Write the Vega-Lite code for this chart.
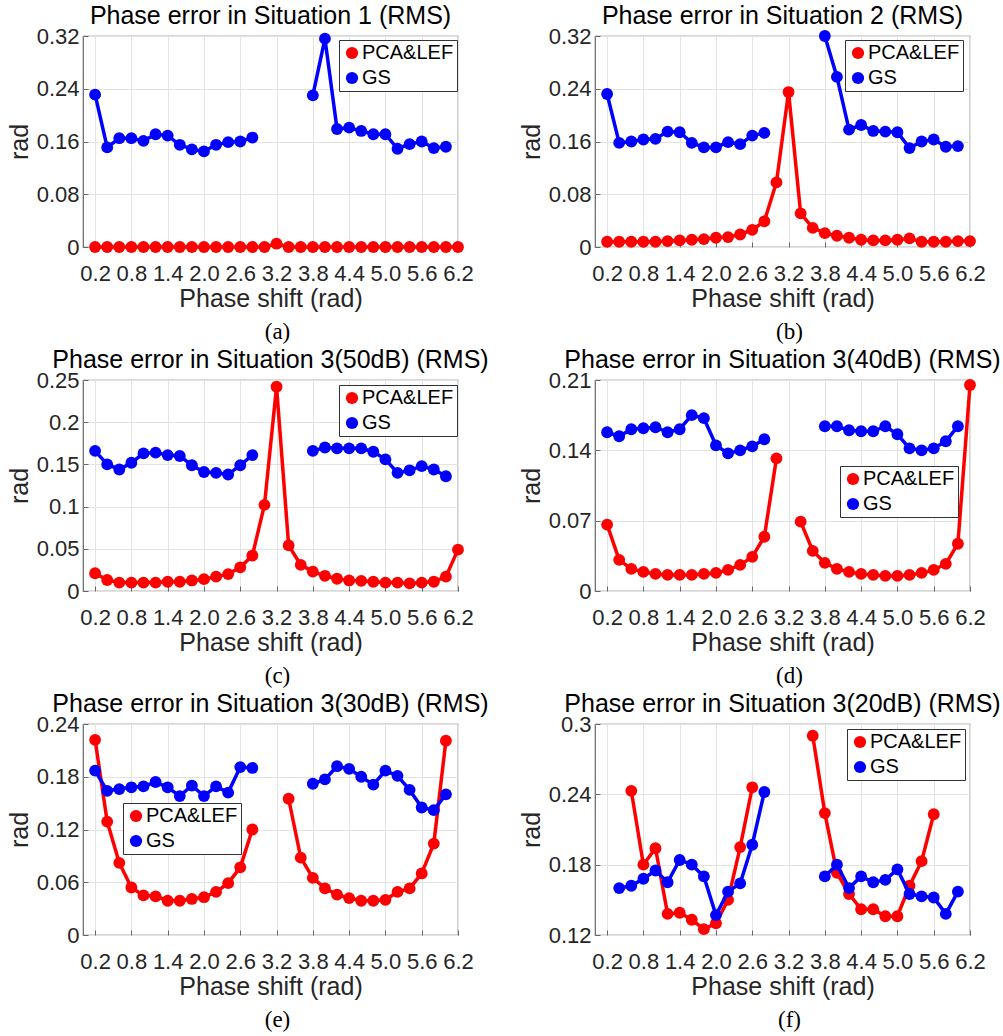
{
"$schema": "https://vega.github.io/schema/vega-lite/v6.json",
"background": "white",
"padding": {"left": 6, "top": 3, "right": 4, "bottom": 0},
"datasets": {
"a": [
{"phase":0.2,"PCA&LEF":0,"GS":0.231},{"phase":0.4,"PCA&LEF":0,"GS":0.151},{"phase":0.6,"PCA&LEF":0,"GS":0.165},{"phase":0.8,"PCA&LEF":0,"GS":0.165},{"phase":1.0,"PCA&LEF":0,"GS":0.161},{"phase":1.2,"PCA&LEF":0,"GS":0.171},{"phase":1.4,"PCA&LEF":0,"GS":0.169},{"phase":1.6,"PCA&LEF":0,"GS":0.155},{"phase":1.8,"PCA&LEF":0,"GS":0.148},{"phase":2.0,"PCA&LEF":0,"GS":0.145},{"phase":2.2,"PCA&LEF":0,"GS":0.155},{"phase":2.4,"PCA&LEF":0,"GS":0.159},{"phase":2.6,"PCA&LEF":0,"GS":0.160},{"phase":2.8,"PCA&LEF":0,"GS":0.166},{"phase":3.0,"PCA&LEF":0,"GS":null},{"phase":3.2,"PCA&LEF":0.005,"GS":null},{"phase":3.4,"PCA&LEF":0,"GS":null},{"phase":3.6,"PCA&LEF":0,"GS":null},{"phase":3.8,"PCA&LEF":0,"GS":0.230},{"phase":4.0,"PCA&LEF":0,"GS":0.316},{"phase":4.2,"PCA&LEF":0,"GS":0.179},{"phase":4.4,"PCA&LEF":0,"GS":0.181},{"phase":4.6,"PCA&LEF":0,"GS":0.176},{"phase":4.8,"PCA&LEF":0,"GS":0.171},{"phase":5.0,"PCA&LEF":0,"GS":0.171},{"phase":5.2,"PCA&LEF":0,"GS":0.149},{"phase":5.4,"PCA&LEF":0,"GS":0.156},{"phase":5.6,"PCA&LEF":0,"GS":0.160},{"phase":5.8,"PCA&LEF":0,"GS":0.150},{"phase":6.0,"PCA&LEF":0,"GS":0.152},{"phase":6.2,"PCA&LEF":0,"GS":null}
],
"b": [
{"phase":0.2,"PCA&LEF":0.008,"GS":0.232},{"phase":0.4,"PCA&LEF":0.008,"GS":0.158},{"phase":0.6,"PCA&LEF":0.008,"GS":0.160},{"phase":0.8,"PCA&LEF":0.008,"GS":0.163},{"phase":1.0,"PCA&LEF":0.008,"GS":0.164},{"phase":1.2,"PCA&LEF":0.009,"GS":0.175},{"phase":1.4,"PCA&LEF":0.010,"GS":0.174},{"phase":1.6,"PCA&LEF":0.011,"GS":0.158},{"phase":1.8,"PCA&LEF":0.012,"GS":0.151},{"phase":2.0,"PCA&LEF":0.014,"GS":0.151},{"phase":2.2,"PCA&LEF":0.015,"GS":0.159},{"phase":2.4,"PCA&LEF":0.019,"GS":0.156},{"phase":2.6,"PCA&LEF":0.026,"GS":0.169},{"phase":2.8,"PCA&LEF":0.039,"GS":0.173},{"phase":3.0,"PCA&LEF":0.098,"GS":null},{"phase":3.2,"PCA&LEF":0.235,"GS":null},{"phase":3.4,"PCA&LEF":0.051,"GS":null},{"phase":3.6,"PCA&LEF":0.029,"GS":null},{"phase":3.8,"PCA&LEF":0.021,"GS":0.320},{"phase":4.0,"PCA&LEF":0.017,"GS":0.258},{"phase":4.2,"PCA&LEF":0.014,"GS":0.178},{"phase":4.4,"PCA&LEF":0.011,"GS":0.185},{"phase":4.6,"PCA&LEF":0.010,"GS":0.176},{"phase":4.8,"PCA&LEF":0.010,"GS":0.175},{"phase":5.0,"PCA&LEF":0.011,"GS":0.174},{"phase":5.2,"PCA&LEF":0.013,"GS":0.150},{"phase":5.4,"PCA&LEF":0.008,"GS":0.160},{"phase":5.6,"PCA&LEF":0.008,"GS":0.163},{"phase":5.8,"PCA&LEF":0.008,"GS":0.152},{"phase":6.0,"PCA&LEF":0.009,"GS":0.153},{"phase":6.2,"PCA&LEF":0.009,"GS":null}
],
"c": [
{"phase":0.2,"PCA&LEF":0.021,"GS":0.166},{"phase":0.4,"PCA&LEF":0.013,"GS":0.150},{"phase":0.6,"PCA&LEF":0.010,"GS":0.144},{"phase":0.8,"PCA&LEF":0.010,"GS":0.152},{"phase":1.0,"PCA&LEF":0.010,"GS":0.163},{"phase":1.2,"PCA&LEF":0.010,"GS":0.164},{"phase":1.4,"PCA&LEF":0.011,"GS":0.161},{"phase":1.6,"PCA&LEF":0.011,"GS":0.160},{"phase":1.8,"PCA&LEF":0.0125,"GS":0.149},{"phase":2.0,"PCA&LEF":0.014,"GS":0.141},{"phase":2.2,"PCA&LEF":0.017,"GS":0.140},{"phase":2.4,"PCA&LEF":0.020,"GS":0.138},{"phase":2.6,"PCA&LEF":0.028,"GS":0.149},{"phase":2.8,"PCA&LEF":0.042,"GS":0.161},{"phase":3.0,"PCA&LEF":0.102,"GS":null},{"phase":3.2,"PCA&LEF":0.242,"GS":null},{"phase":3.4,"PCA&LEF":0.054,"GS":null},{"phase":3.6,"PCA&LEF":0.031,"GS":null},{"phase":3.8,"PCA&LEF":0.023,"GS":0.166},{"phase":4.0,"PCA&LEF":0.018,"GS":0.170},{"phase":4.2,"PCA&LEF":0.0145,"GS":0.169},{"phase":4.4,"PCA&LEF":0.0125,"GS":0.169},{"phase":4.6,"PCA&LEF":0.012,"GS":0.169},{"phase":4.8,"PCA&LEF":0.011,"GS":0.165},{"phase":5.0,"PCA&LEF":0.010,"GS":0.156},{"phase":5.2,"PCA&LEF":0.010,"GS":0.140},{"phase":5.4,"PCA&LEF":0.009,"GS":0.143},{"phase":5.6,"PCA&LEF":0.010,"GS":0.148},{"phase":5.8,"PCA&LEF":0.011,"GS":0.144},{"phase":6.0,"PCA&LEF":0.017,"GS":0.136},{"phase":6.2,"PCA&LEF":0.049,"GS":null}
],
"d": [
{"phase":0.2,"PCA&LEF":0.066,"GS":0.158},{"phase":0.4,"PCA&LEF":0.031,"GS":0.154},{"phase":0.6,"PCA&LEF":0.022,"GS":0.161},{"phase":0.8,"PCA&LEF":0.019,"GS":0.162},{"phase":1.0,"PCA&LEF":0.017,"GS":0.163},{"phase":1.2,"PCA&LEF":0.016,"GS":0.158},{"phase":1.4,"PCA&LEF":0.016,"GS":0.161},{"phase":1.6,"PCA&LEF":0.016,"GS":0.175},{"phase":1.8,"PCA&LEF":0.017,"GS":0.172},{"phase":2.0,"PCA&LEF":0.018,"GS":0.145},{"phase":2.2,"PCA&LEF":0.021,"GS":0.137},{"phase":2.4,"PCA&LEF":0.026,"GS":0.140},{"phase":2.6,"PCA&LEF":0.034,"GS":0.144},{"phase":2.8,"PCA&LEF":0.054,"GS":0.151},{"phase":3.0,"PCA&LEF":0.132,"GS":null},{"phase":3.2,"PCA&LEF":null,"GS":null},{"phase":3.4,"PCA&LEF":0.069,"GS":null},{"phase":3.6,"PCA&LEF":0.040,"GS":null},{"phase":3.8,"PCA&LEF":0.028,"GS":0.164},{"phase":4.0,"PCA&LEF":0.022,"GS":0.164},{"phase":4.2,"PCA&LEF":0.019,"GS":0.160},{"phase":4.4,"PCA&LEF":0.017,"GS":0.159},{"phase":4.6,"PCA&LEF":0.016,"GS":0.159},{"phase":4.8,"PCA&LEF":0.015,"GS":0.164},{"phase":5.0,"PCA&LEF":0.015,"GS":0.156},{"phase":5.2,"PCA&LEF":0.016,"GS":0.142},{"phase":5.4,"PCA&LEF":0.018,"GS":0.140},{"phase":5.6,"PCA&LEF":0.021,"GS":0.142},{"phase":5.8,"PCA&LEF":0.027,"GS":0.149},{"phase":6.0,"PCA&LEF":0.047,"GS":0.164},{"phase":6.2,"PCA&LEF":0.205,"GS":null}
],
"e": [
{"phase":0.2,"PCA&LEF":0.222,"GS":0.187},{"phase":0.4,"PCA&LEF":0.129,"GS":0.164},{"phase":0.6,"PCA&LEF":0.082,"GS":0.166},{"phase":0.8,"PCA&LEF":0.054,"GS":0.168},{"phase":1.0,"PCA&LEF":0.045,"GS":0.169},{"phase":1.2,"PCA&LEF":0.044,"GS":0.174},{"phase":1.4,"PCA&LEF":0.039,"GS":0.168},{"phase":1.6,"PCA&LEF":0.039,"GS":0.158},{"phase":1.8,"PCA&LEF":0.041,"GS":0.170},{"phase":2.0,"PCA&LEF":0.043,"GS":0.158},{"phase":2.2,"PCA&LEF":0.049,"GS":0.169},{"phase":2.4,"PCA&LEF":0.059,"GS":0.162},{"phase":2.6,"PCA&LEF":0.077,"GS":0.191},{"phase":2.8,"PCA&LEF":0.120,"GS":0.190},{"phase":3.0,"PCA&LEF":null,"GS":null},{"phase":3.2,"PCA&LEF":null,"GS":null},{"phase":3.4,"PCA&LEF":0.155,"GS":null},{"phase":3.6,"PCA&LEF":0.088,"GS":null},{"phase":3.8,"PCA&LEF":0.065,"GS":0.172},{"phase":4.0,"PCA&LEF":0.053,"GS":0.177},{"phase":4.2,"PCA&LEF":0.046,"GS":0.192},{"phase":4.4,"PCA&LEF":0.042,"GS":0.189},{"phase":4.6,"PCA&LEF":0.039,"GS":0.180},{"phase":4.8,"PCA&LEF":0.039,"GS":0.171},{"phase":5.0,"PCA&LEF":0.040,"GS":0.187},{"phase":5.2,"PCA&LEF":0.049,"GS":0.181},{"phase":5.4,"PCA&LEF":0.053,"GS":0.165},{"phase":5.6,"PCA&LEF":0.070,"GS":0.145},{"phase":5.8,"PCA&LEF":0.104,"GS":0.142},{"phase":6.0,"PCA&LEF":0.221,"GS":0.160}
],
"f": [
{"phase":0.4,"PCA&LEF":null,"GS":0.160},{"phase":0.6,"PCA&LEF":0.243,"GS":0.162},{"phase":0.8,"PCA&LEF":0.180,"GS":0.168},{"phase":1.0,"PCA&LEF":0.194,"GS":0.175},{"phase":1.2,"PCA&LEF":0.138,"GS":0.165},{"phase":1.4,"PCA&LEF":0.139,"GS":0.184},{"phase":1.6,"PCA&LEF":0.133,"GS":0.180},{"phase":1.8,"PCA&LEF":0.125,"GS":0.170},{"phase":2.0,"PCA&LEF":0.130,"GS":0.137},{"phase":2.2,"PCA&LEF":0.150,"GS":0.157},{"phase":2.4,"PCA&LEF":0.195,"GS":0.164},{"phase":2.6,"PCA&LEF":0.246,"GS":0.197},{"phase":2.8,"PCA&LEF":null,"GS":0.242},{"phase":3.0,"PCA&LEF":null,"GS":null},{"phase":3.2,"PCA&LEF":null,"GS":null},{"phase":3.4,"PCA&LEF":null,"GS":null},{"phase":3.6,"PCA&LEF":0.290,"GS":null},{"phase":3.8,"PCA&LEF":0.224,"GS":0.170},{"phase":4.0,"PCA&LEF":0.173,"GS":0.180},{"phase":4.2,"PCA&LEF":0.155,"GS":0.160},{"phase":4.4,"PCA&LEF":0.142,"GS":0.170},{"phase":4.6,"PCA&LEF":0.142,"GS":0.165},{"phase":4.8,"PCA&LEF":0.136,"GS":0.167},{"phase":5.0,"PCA&LEF":0.136,"GS":0.176},{"phase":5.2,"PCA&LEF":0.162,"GS":0.155},{"phase":5.4,"PCA&LEF":0.183,"GS":0.153},{"phase":5.6,"PCA&LEF":0.223,"GS":0.152},{"phase":5.8,"PCA&LEF":null,"GS":0.138},{"phase":6.0,"PCA&LEF":null,"GS":0.157}
]
},
"columns": 2,
"spacing": {"row": 3, "column": 28},
"resolve": {"scale": {"color": "independent"}, "legend": {"color": "independent"}},
"concat": [
{"spacing": 8, "resolve": {"scale": {"color": "independent"}, "legend": {"color": "independent"}}, "vconcat": [
 {"width": 375, "height": 211, "title": "Phase error in Situation 1 (RMS)", "data": {"name": "a"},
  "transform": [{"fold": ["PCA&LEF", "GS"], "as": ["method", "rms"]}],
  "encoding": {
   "x": {"field": "phase", "type": "quantitative", "scale": {"domain": [0, 6.2], "nice": false, "zero": false}, "axis": {"values": [0.2,0.8,1.4,2.0,2.6,3.2,3.8,4.4,5.0,5.6,6.2], "format": ".1f", "title": "Phase shift (rad)"}},
   "y": {"field": "rms", "type": "quantitative", "scale": {"domain": [0, 0.32], "nice": false}, "axis": {"values": [0,0.08,0.16,0.24,0.32], "format": "~g", "title": "rad"}},
   "color": {"field": "method", "type": "nominal", "scale": {"domain": ["PCA&LEF", "GS"], "range": ["#ff0000", "#0000ff"]}, "legend": {"orient": "none", "legendX": 256, "legendY": 4}}
  },
  "layer": [
   {"transform": [{"filter": {"field": "method", "equal": "PCA&LEF"}}], "mark": {"type": "line", "strokeWidth": 3.5, "invalid": "break-paths-filter-domains"}},
   {"transform": [{"filter": {"field": "method", "equal": "PCA&LEF"}}], "mark": {"type": "point", "filled": true, "size": 140, "opacity": 1}},
   {"transform": [{"filter": {"field": "method", "equal": "GS"}}], "mark": {"type": "line", "strokeWidth": 3.5, "invalid": "break-paths-filter-domains"}},
   {"transform": [{"filter": {"field": "method", "equal": "GS"}}], "mark": {"type": "point", "filled": true, "size": 140, "opacity": 1}}
  ]},
 {"width": 375, "height": 24, "view": {"stroke": null}, "data": {"values": [{"caption": "(a)"}]}, "mark": {"type": "text", "font": "Liberation Serif", "fontSize": 23, "dx": 7, "color": "#000"}, "encoding": {"text": {"field": "caption"}}}
]},
{"spacing": 8, "resolve": {"scale": {"color": "independent"}, "legend": {"color": "independent"}}, "vconcat": [
 {"width": 375, "height": 211, "title": "Phase error in Situation 2 (RMS)", "data": {"name": "b"},
  "transform": [{"fold": ["PCA&LEF", "GS"], "as": ["method", "rms"]}],
  "encoding": {
   "x": {"field": "phase", "type": "quantitative", "scale": {"domain": [0, 6.2], "nice": false, "zero": false}, "axis": {"values": [0.2,0.8,1.4,2.0,2.6,3.2,3.8,4.4,5.0,5.6,6.2], "format": ".1f", "title": "Phase shift (rad)"}},
   "y": {"field": "rms", "type": "quantitative", "scale": {"domain": [0, 0.32], "nice": false}, "axis": {"values": [0,0.08,0.16,0.24,0.32], "format": "~g", "title": "rad"}},
   "color": {"field": "method", "type": "nominal", "scale": {"domain": ["PCA&LEF", "GS"], "range": ["#ff0000", "#0000ff"]}, "legend": {"orient": "none", "legendX": 250, "legendY": 4}}
  },
  "layer": [
   {"transform": [{"filter": {"field": "method", "equal": "PCA&LEF"}}], "mark": {"type": "line", "strokeWidth": 3.5, "invalid": "break-paths-filter-domains"}},
   {"transform": [{"filter": {"field": "method", "equal": "PCA&LEF"}}], "mark": {"type": "point", "filled": true, "size": 140, "opacity": 1}},
   {"transform": [{"filter": {"field": "method", "equal": "GS"}}], "mark": {"type": "line", "strokeWidth": 3.5, "invalid": "break-paths-filter-domains"}},
   {"transform": [{"filter": {"field": "method", "equal": "GS"}}], "mark": {"type": "point", "filled": true, "size": 140, "opacity": 1}}
  ]},
 {"width": 375, "height": 24, "view": {"stroke": null}, "data": {"values": [{"caption": "(b)"}]}, "mark": {"type": "text", "font": "Liberation Serif", "fontSize": 23, "dx": 7, "color": "#000"}, "encoding": {"text": {"field": "caption"}}}
]},
{"spacing": 8, "resolve": {"scale": {"color": "independent"}, "legend": {"color": "independent"}}, "vconcat": [
 {"width": 375, "height": 211, "title": "Phase error in Situation 3(50dB) (RMS)", "data": {"name": "c"},
  "transform": [{"fold": ["PCA&LEF", "GS"], "as": ["method", "rms"]}],
  "encoding": {
   "x": {"field": "phase", "type": "quantitative", "scale": {"domain": [0, 6.2], "nice": false, "zero": false}, "axis": {"values": [0.2,0.8,1.4,2.0,2.6,3.2,3.8,4.4,5.0,5.6,6.2], "format": ".1f", "title": "Phase shift (rad)"}},
   "y": {"field": "rms", "type": "quantitative", "scale": {"domain": [0, 0.25], "nice": false}, "axis": {"values": [0,0.05,0.1,0.15,0.2,0.25], "format": "~g", "title": "rad"}},
   "color": {"field": "method", "type": "nominal", "scale": {"domain": ["PCA&LEF", "GS"], "range": ["#ff0000", "#0000ff"]}, "legend": {"orient": "none", "legendX": 256, "legendY": 5}}
  },
  "layer": [
   {"transform": [{"filter": {"field": "method", "equal": "PCA&LEF"}}], "mark": {"type": "line", "strokeWidth": 3.5, "invalid": "break-paths-filter-domains"}},
   {"transform": [{"filter": {"field": "method", "equal": "PCA&LEF"}}], "mark": {"type": "point", "filled": true, "size": 140, "opacity": 1}},
   {"transform": [{"filter": {"field": "method", "equal": "GS"}}], "mark": {"type": "line", "strokeWidth": 3.5, "invalid": "break-paths-filter-domains"}},
   {"transform": [{"filter": {"field": "method", "equal": "GS"}}], "mark": {"type": "point", "filled": true, "size": 140, "opacity": 1}}
  ]},
 {"width": 375, "height": 24, "view": {"stroke": null}, "data": {"values": [{"caption": "(c)"}]}, "mark": {"type": "text", "font": "Liberation Serif", "fontSize": 23, "dx": 7, "color": "#000"}, "encoding": {"text": {"field": "caption"}}}
]},
{"spacing": 8, "resolve": {"scale": {"color": "independent"}, "legend": {"color": "independent"}}, "vconcat": [
 {"width": 375, "height": 211, "title": "Phase error in Situation 3(40dB) (RMS)", "data": {"name": "d"},
  "transform": [{"fold": ["PCA&LEF", "GS"], "as": ["method", "rms"]}],
  "encoding": {
   "x": {"field": "phase", "type": "quantitative", "scale": {"domain": [0, 6.2], "nice": false, "zero": false}, "axis": {"values": [0.2,0.8,1.4,2.0,2.6,3.2,3.8,4.4,5.0,5.6,6.2], "format": ".1f", "title": "Phase shift (rad)"}},
   "y": {"field": "rms", "type": "quantitative", "scale": {"domain": [0, 0.21], "nice": false}, "axis": {"values": [0,0.07,0.14,0.21], "format": "~g", "title": "rad"}},
   "color": {"field": "method", "type": "nominal", "scale": {"domain": ["PCA&LEF", "GS"], "range": ["#ff0000", "#0000ff"]}, "legend": {"orient": "none", "legendX": 245, "legendY": 86}}
  },
  "layer": [
   {"transform": [{"filter": {"field": "method", "equal": "PCA&LEF"}}], "mark": {"type": "line", "strokeWidth": 3.5, "invalid": "break-paths-filter-domains"}},
   {"transform": [{"filter": {"field": "method", "equal": "PCA&LEF"}}], "mark": {"type": "point", "filled": true, "size": 140, "opacity": 1}},
   {"transform": [{"filter": {"field": "method", "equal": "GS"}}], "mark": {"type": "line", "strokeWidth": 3.5, "invalid": "break-paths-filter-domains"}},
   {"transform": [{"filter": {"field": "method", "equal": "GS"}}], "mark": {"type": "point", "filled": true, "size": 140, "opacity": 1}}
  ]},
 {"width": 375, "height": 24, "view": {"stroke": null}, "data": {"values": [{"caption": "(d)"}]}, "mark": {"type": "text", "font": "Liberation Serif", "fontSize": 23, "dx": 7, "color": "#000"}, "encoding": {"text": {"field": "caption"}}}
]},
{"spacing": 8, "resolve": {"scale": {"color": "independent"}, "legend": {"color": "independent"}}, "vconcat": [
 {"width": 375, "height": 211, "title": "Phase error in Situation 3(30dB) (RMS)", "data": {"name": "e"},
  "transform": [{"fold": ["PCA&LEF", "GS"], "as": ["method", "rms"]}],
  "encoding": {
   "x": {"field": "phase", "type": "quantitative", "scale": {"domain": [0, 6.2], "nice": false, "zero": false}, "axis": {"values": [0.2,0.8,1.4,2.0,2.6,3.2,3.8,4.4,5.0,5.6,6.2], "format": ".1f", "title": "Phase shift (rad)"}},
   "y": {"field": "rms", "type": "quantitative", "scale": {"domain": [0, 0.24], "nice": false}, "axis": {"values": [0,0.06,0.12,0.18,0.24], "format": "~g", "title": "rad"}},
   "color": {"field": "method", "type": "nominal", "scale": {"domain": ["PCA&LEF", "GS"], "range": ["#ff0000", "#0000ff"]}, "legend": {"orient": "none", "legendX": 40, "legendY": 79}}
  },
  "layer": [
   {"transform": [{"filter": {"field": "method", "equal": "PCA&LEF"}}], "mark": {"type": "line", "strokeWidth": 3.5, "invalid": "break-paths-filter-domains"}},
   {"transform": [{"filter": {"field": "method", "equal": "PCA&LEF"}}], "mark": {"type": "point", "filled": true, "size": 140, "opacity": 1}},
   {"transform": [{"filter": {"field": "method", "equal": "GS"}}], "mark": {"type": "line", "strokeWidth": 3.5, "invalid": "break-paths-filter-domains"}},
   {"transform": [{"filter": {"field": "method", "equal": "GS"}}], "mark": {"type": "point", "filled": true, "size": 140, "opacity": 1}}
  ]},
 {"width": 375, "height": 24, "view": {"stroke": null}, "data": {"values": [{"caption": "(e)"}]}, "mark": {"type": "text", "font": "Liberation Serif", "fontSize": 23, "dx": 7, "color": "#000"}, "encoding": {"text": {"field": "caption"}}}
]},
{"spacing": 8, "resolve": {"scale": {"color": "independent"}, "legend": {"color": "independent"}}, "vconcat": [
 {"width": 375, "height": 211, "title": "Phase error in Situation 3(20dB) (RMS)", "data": {"name": "f"},
  "transform": [{"fold": ["PCA&LEF", "GS"], "as": ["method", "rms"]}],
  "encoding": {
   "x": {"field": "phase", "type": "quantitative", "scale": {"domain": [0, 6.2], "nice": false, "zero": false}, "axis": {"values": [0.2,0.8,1.4,2.0,2.6,3.2,3.8,4.4,5.0,5.6,6.2], "format": ".1f", "title": "Phase shift (rad)"}},
   "y": {"field": "rms", "type": "quantitative", "scale": {"domain": [0.12, 0.3], "nice": false, "zero": false}, "axis": {"values": [0.12,0.18,0.24,0.3], "format": "~g", "title": "rad"}},
   "color": {"field": "method", "type": "nominal", "scale": {"domain": ["PCA&LEF", "GS"], "range": ["#ff0000", "#0000ff"]}, "legend": {"orient": "none", "legendX": 252, "legendY": 5}}
  },
  "layer": [
   {"transform": [{"filter": {"field": "method", "equal": "PCA&LEF"}}], "mark": {"type": "line", "strokeWidth": 3.5, "invalid": "break-paths-filter-domains"}},
   {"transform": [{"filter": {"field": "method", "equal": "PCA&LEF"}}], "mark": {"type": "point", "filled": true, "size": 140, "opacity": 1}},
   {"transform": [{"filter": {"field": "method", "equal": "GS"}}], "mark": {"type": "line", "strokeWidth": 3.5, "invalid": "break-paths-filter-domains"}},
   {"transform": [{"filter": {"field": "method", "equal": "GS"}}], "mark": {"type": "point", "filled": true, "size": 140, "opacity": 1}}
  ]},
 {"width": 375, "height": 24, "view": {"stroke": null}, "data": {"values": [{"caption": "(f)"}]}, "mark": {"type": "text", "font": "Liberation Serif", "fontSize": 23, "dx": 7, "color": "#000"}, "encoding": {"text": {"field": "caption"}}}
]}
],
"config": {
 "font": "Liberation Sans",
 "view": {"stroke": "#666666", "strokeWidth": 1.2},
 "title": {"fontSize": 25, "fontWeight": "normal", "color": "#000000", "offset": -4, "frame": "group"},
 "axis": {"labelFontSize": 22, "labelColor": "#262626", "titleFontSize": 25, "titleFontWeight": "normal", "titleColor": "#262626", "domain": false, "grid": true, "gridColor": "#e3e3e3", "gridWidth": 1, "tickColor": "#666666", "tickSize": -5, "tickWidth": 1, "labelFlush": false, "labelOverlap": false},
 "axisX": {"labelPadding": 21, "titlePadding": 2},
 "axisY": {"labelPadding": 9, "titlePadding": 4},
 "legend": {"title": null, "labelFontSize": 20, "labelColor": "#000000", "symbolType": "circle", "symbolSize": 150, "symbolStrokeWidth": 0, "fillColor": "#ffffff", "strokeColor": "#333333", "padding": 3, "rowPadding": 5, "labelOffset": 0, "symbolOffset": 0}
}
}
